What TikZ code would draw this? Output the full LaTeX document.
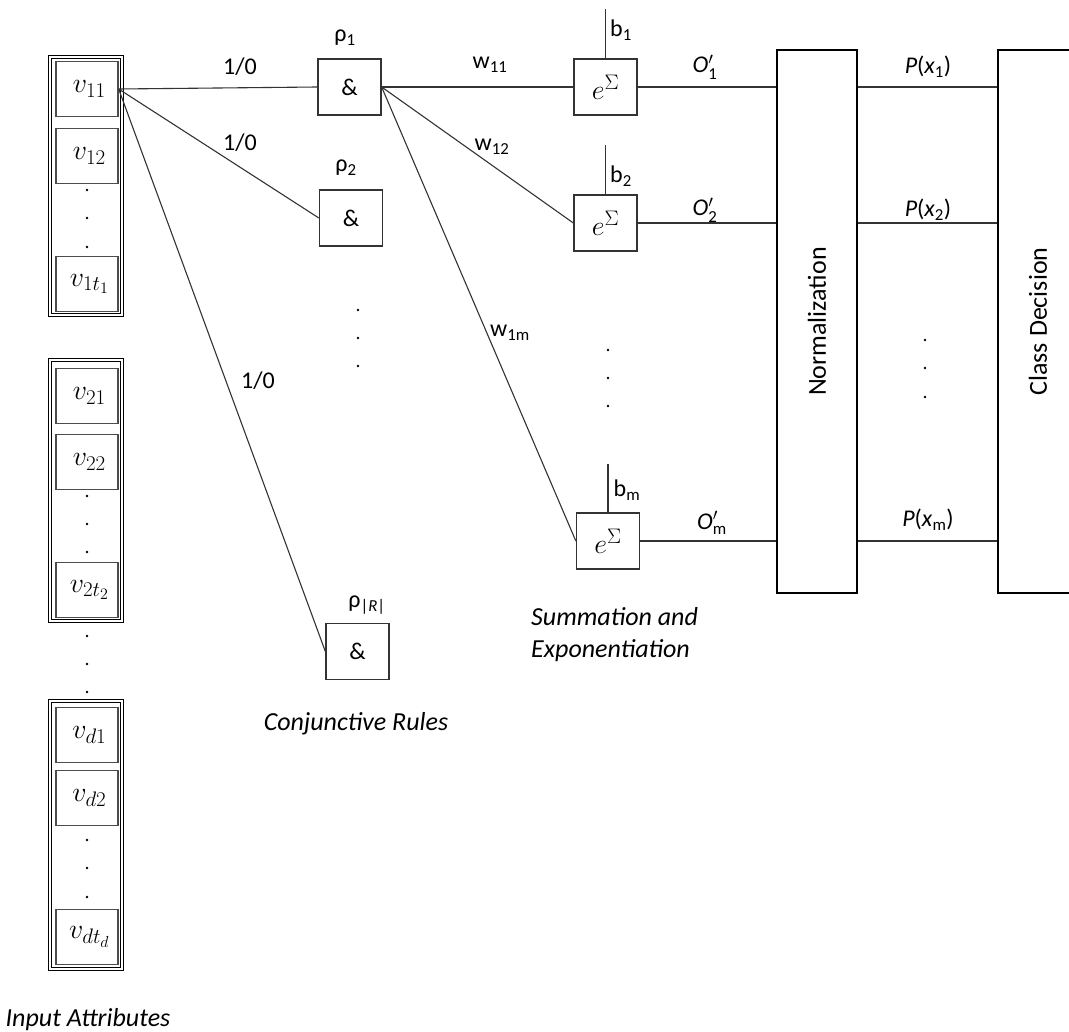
\documentclass[tikz,border=0pt]{standalone}
\usepackage{fix-cm}
\usepackage[no-math]{fontspec}
\setmainfont{Carlito}
\usepackage{amsmath}
\usetikzlibrary{positioning}
\DeclareMathSizes{28}{28}{21}{16}
\newcommand{\lblfont}{\fontsize{24}{29}\selectfont}
\newcommand{\capfont}{\fontsize{26}{31}\selectfont}
\newcommand{\valfont}{\fontsize{28}{32}\selectfont}
\newcommand{\expsym}{{\valfont$e^{\Sigma}$}}
\tikzset{
  wire/.style    = {line width=1.1pt, black!80},
  valbox/.style  = {draw=black!70, line width=1.3pt, minimum width=62pt,
                    minimum height=55pt, inner sep=0pt, font=\valfont},
  grpbox/.style  = {draw, double, line width=1pt, double distance=2.2pt,
                    minimum width=72pt, inner sep=0pt},
  opbox/.style   = {draw=black!80, line width=1.3pt, minimum width=63pt,
                    minimum height=56pt, inner sep=0pt, font=\lblfont},
  tallbox/.style = {draw, line width=1.6pt, minimum width=80pt,
                    minimum height=543pt, inner sep=0pt, font=\capfont},
  lbl/.style     = {font=\lblfont, inner sep=1pt},
  captext/.style = {font=\capfont\itshape, inner sep=1pt},
}

\begin{document}
\begin{tikzpicture}[x=1pt, y=-1pt]
\useasboundingbox (0,0) rectangle (1069,1032);
\clip (0,0) rectangle (1069,1032);
% input attributes
\node[grpbox, minimum height=258pt] (grp1) at (86,186) {};
\node[grpbox, minimum height=261pt] (grp2) at (86,490.5) {};
\node[grpbox, minimum height=268pt] (grp3) at (86,835) {};
\node[valbox] (v11) at (87,89)  {\,$v_{11}$};
\node[valbox] (v12) at (87,156) {\,$v_{12}$};
\node[valbox] (v1t) at (87,284) {\,$v_{1t_1}$};
\node[valbox] (v21) at (87,396) {\,$v_{21}$};
\node[valbox] (v22) at (87,462) {\,$v_{22}$};
\node[valbox] (v2t) at (87,590) {\,$v_{2t_2}$};
\node[valbox] (vd1) at (87,735) {\,$v_{d1}$};
\node[valbox] (vd2) at (87,798) {\,$v_{d2}$};
\node[valbox] (vdt) at (87,937) {\,$v_{dt_d}$};
\foreach \y in {190,218,247,496,524,552,636,664,692,840,868,897}
  \fill (87,\y) circle (1.3pt);
% conjunctive rules
\node[opbox] (r1) at (349.5,87)    {\&};
\node[opbox] (r2) at (351,218)     {\&};
\node[opbox] (rR) at (357.5,651.5) {\&};
\node[lbl] (r1l) at (345,38)  {ρ\textsubscript{1}};
\node[lbl] (r2l) at (346,168) {ρ\textsubscript{2}};
\node[lbl] (rRl) at (367,605) {ρ\textsubscript{|\textit{R}|}};
\foreach \y in {310,338,366}
  \fill (358,\y) circle (1.3pt);
% summation and exponentiation
\node[opbox] (e1) at (605.5,87) {\expsym};
\node[opbox] (e2) at (605.5,223) {\expsym};
\node[opbox] (e3) at (608,541)  {\expsym};
\foreach \y in {350,378,406}
  \fill (608,\y) circle (1.3pt);
\draw[wire] (e1.north) -- ++(0,-49);
\draw[wire] (e2.north) -- ++(0,-49);
\draw[wire] (e3.north) -- ++(0,-48);
\node[lbl] (b1l) at (621,30)  {b\textsubscript{1}};
\node[lbl] (b2l) at (621,176) {b\textsubscript{2}};
\node[lbl] (bml) at (627,490) {b\textsubscript{m}};
% normalization and decision
\node[tallbox] (norm) at (817,321.5)  {\rotatebox{90}{Normalization}};
\node[tallbox] (cls)  at (1038,321.5) {\rotatebox{90}{Class Decision}};
\foreach \y in {340,368,397}
  \fill (925,\y) circle (1.3pt);
% connectors
\draw[wire] (v11.east) -- (r1.west);
\draw[wire] (v11.east) -- (r2.west);
\draw[wire] (v11.east) -- (rR.west);
\node[lbl] (c1) at (240,67)  {1/0};
\node[lbl] (c2) at (240,143) {1/0};
\node[lbl] (c3) at (258,381) {1/0};
\draw[wire] (r1.east) -- (e1.west);
\draw[wire] (r1.east) -- (e2.west);
\draw[wire] (r1.east) -- (e3.west);
\node[lbl] (w1) at (490,65)  {w\textsubscript{11}};
\node[lbl] (w2) at (492,147) {w\textsubscript{12}};
\node[lbl] (w3) at (510,333) {w\textsubscript{1m}};
\draw[wire] (e1.east) -- (e1.east -| norm.west);
\draw[wire] (e2.east) -- (e2.east -| norm.west);
\draw[wire] (e3.east) -- (e3.east -| norm.west);
\node[lbl] (o1) at (705,67)  {\textit{O}$'_{\text{1}}$};
\node[lbl] (o2) at (705,210) {\textit{O}$'_{\text{2}}$};
\node[lbl] (o3) at (712,523) {\textit{O}$'_{\text{m}}$};
\draw[wire] (e1.east -| norm.east) -- (e1.east -| cls.west);
\draw[wire] (e2.east -| norm.east) -- (e2.east -| cls.west);
\draw[wire] (e3.east -| norm.east) -- (e3.east -| cls.west);
\node[lbl] (p1) at (928,67)  {\textit{P}(\textit{x}\textsubscript{1})};
\node[lbl] (p2) at (928,210) {\textit{P}(\textit{x}\textsubscript{2})};
\node[lbl] (p3) at (928,520) {\textit{P}(\textit{x}\textsubscript{m})};
% captions
\node[captext, anchor=west] (sumcap) at (530,617) {Summation and};
\node[captext, anchor=west] (expcap) at (530,651) {Exponentiation};
\node[captext] (conjcap) at (356,724) {Conjunctive Rules};
\node[captext] (inpcap)  at (88,1020) {Input Attributes};
\end{tikzpicture}
\end{document}
